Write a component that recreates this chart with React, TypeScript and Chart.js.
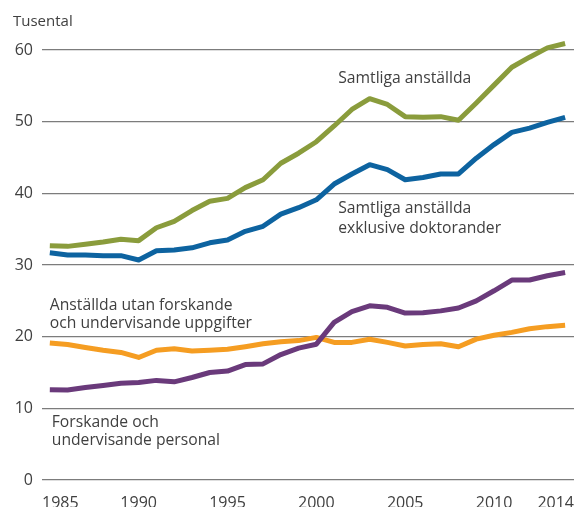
import React, { useEffect, useRef } from "react";
import { Chart, registerables } from "chart.js";

Chart.register(...registerables);

const years = [
  1985, 1986, 1987, 1988, 1989, 1990, 1991, 1992, 1993, 1994,
  1995, 1996, 1997, 1998, 1999, 2000, 2001, 2002, 2003, 2004,
  2005, 2006, 2007, 2008, 2009, 2010, 2011, 2012, 2013, 2014,
];

const samtligaAnstallda = [
  32.7, 32.6, 32.9, 33.2, 33.6, 33.4, 35.2, 36.1, 37.6, 38.9,
  39.3, 40.8, 41.9, 44.2, 45.6, 47.2, 49.4, 51.7, 53.2, 52.4,
  50.7, 50.6, 50.7, 50.2, 52.6, 55.1, 57.6, 59.0, 60.3, 60.9,
];

const exklusiveDoktorander = [
  31.7, 31.4, 31.4, 31.3, 31.3, 30.7, 32.0, 32.1, 32.4, 33.1,
  33.5, 34.7, 35.4, 37.1, 38.0, 39.1, 41.3, 42.7, 44.0, 43.3,
  41.9, 42.2, 42.7, 42.7, 44.9, 46.8, 48.5, 49.1, 49.9, 50.6,
];

const utanForskande = [
  19.1, 18.9, 18.5, 18.1, 17.8, 17.1, 18.1, 18.3, 18.0, 18.1,
  18.25, 18.6, 19.0, 19.3, 19.45, 19.9, 19.2, 19.2, 19.65, 19.2,
  18.7, 18.9, 19.0, 18.6, 19.65, 20.2, 20.6, 21.1, 21.4, 21.6,
];

const forskandePersonal = [
  12.6, 12.55, 12.9, 13.2, 13.5, 13.6, 13.9, 13.7, 14.3, 15.0,
  15.2, 16.1, 16.2, 17.5, 18.4, 18.95, 22.0, 23.5, 24.3, 24.1,
  23.3, 23.35, 23.6, 24.0, 25.0, 26.4, 27.9, 27.9, 28.5, 28.95,
];

const xTickLabels = ["1985", "1990", "1995", "2000", "2005", "2010", "2014"];
const xInnerTicks = [1990, 1995, 2000, 2005, 2010];
const yMax = 60;
const yStep = 10;
const unitLabel = "Tusental";

const seriesNames = [
  "Forskande och undervisande personal",
  "Anställda utan forskande och undervisande uppgifter",
  "Samtliga anställda exklusive doktorander",
  "Samtliga anställda",
];

const annotations = [
  { lines: ["Samtliga anställda"], x: 2001.23, y: 55.4, spacing: 20 },
  { lines: ["Samtliga anställda", "exklusive doktorander"], x: 2001.23, y: 37.26, spacing: 20 },
  { lines: ["Anställda utan forskande", "och undervisande uppgifter"], x: 1985.0, y: 23.72, spacing: 17.5 },
  { lines: ["Forskande och", "undervisande personal"], x: 1985.11, y: 7.4, spacing: 18 },
];

const FONT = "'Open Sans', 'DejaVu Sans', sans-serif";
const TEXT_COLOR = "#404040";

const toPoints = (vals: number[]) => years.map((yr, i) => ({ x: yr, y: vals[i] }));

const X_MIN = 1984.56;
const X_MAX = 2014.5;

const annotationPlugin = {
  id: "annotationText",
  afterDatasetsDraw(chart: any) {
    const { ctx, scales, chartArea } = chart;
    const xs = scales.x;
    const ys = scales.y;
    ctx.save();
    ctx.fillStyle = TEXT_COLOR;
    ctx.font = `15.7px ${FONT}`;
    ctx.textAlign = "left";
    ctx.textBaseline = "alphabetic";
    annotations.forEach((a) => {
      const px = xs.getPixelForValue(a.x);
      const py = ys.getPixelForValue(a.y);
      a.lines.forEach((line, i) => {
        ctx.fillText(line, px, py + i * a.spacing);
      });
    });
    ctx.font = `15px ${FONT}`;
    ctx.fillText(unitLabel, chartArea.left - 29, 26);
    ctx.restore();
  },
};

export default function App() {
  const canvasRef = useRef<HTMLCanvasElement | null>(null);

  useEffect(() => {
    if (!canvasRef.current) return;
    const chart = new Chart(canvasRef.current, {
      type: "line",
      data: {
        datasets: [
          {
            label: seriesNames[0],
            data: toPoints(forskandePersonal),
            borderColor: "#6a3a7b",
            order: 1,
          },
          {
            label: seriesNames[1],
            data: toPoints(utanForskande),
            borderColor: "#f59d22",
            order: 2,
          },
          {
            label: seriesNames[2],
            data: toPoints(exklusiveDoktorander),
            borderColor: "#0d63a0",
            order: 3,
          },
          {
            label: seriesNames[3],
            data: toPoints(samtligaAnstallda),
            borderColor: "#8a9c3c",
            order: 4,
          },
        ].map((d) => ({
          ...d,
          borderWidth: 5,
          pointRadius: 0,
          tension: 0,
          fill: false,
          clip: false as const,
          borderJoinStyle: "round" as const,
          borderCapStyle: "butt" as const,
        })),
      },
      options: {
        animation: false,
        responsive: true,
        maintainAspectRatio: false,
        layout: { padding: { top: 50, right: 2, left: 0, bottom: 0 } },
        plugins: {
          legend: { display: false },
          tooltip: { enabled: false },
          title: { display: false },
        },
        scales: {
          x: {
            type: "linear",
            min: X_MIN,
            max: X_MAX,
            grid: { display: false, drawTicks: false },
            border: { display: false },
            afterBuildTicks: (scale: any) => {
              scale.ticks = [
                { value: X_MIN },
                ...xInnerTicks.map((v) => ({ value: v })),
                { value: X_MAX },
              ];
            },
            afterFit: (scale: any) => {
              scale.height = 27;
            },
            ticks: {
              align: "inner",
              maxRotation: 0,
              autoSkip: false,
              padding: 14,
              color: TEXT_COLOR,
              font: { family: FONT, size: 16 },
              callback: (_v: any, idx: number) => xTickLabels[idx],
            },
          },
          y: {
            min: 0,
            max: yMax,
            grid: {
              color: "#7c7c7c",
              lineWidth: 1.2,
              drawTicks: false,
            },
            border: { display: false },
            afterFit: (scale: any) => {
              scale.width = 42;
            },
            ticks: {
              stepSize: yStep,
              padding: 9,
              color: TEXT_COLOR,
              font: { family: FONT, size: 16 },
            },
          },
        },
      },
      plugins: [annotationPlugin],
    });
    return () => chart.destroy();
  }, []);

  return (
    <div style={{ position: "absolute", left: 0, top: 0, width: 588, height: 507, background: "#fff" }}>
      <canvas ref={canvasRef} />
    </div>
  );
}
